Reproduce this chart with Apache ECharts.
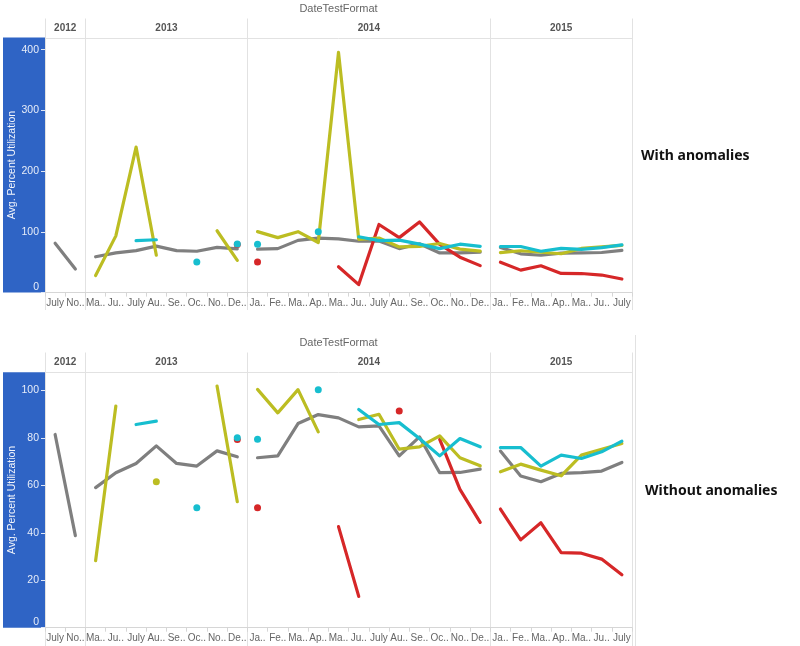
<!DOCTYPE html>
<html><head><meta charset="utf-8">
<script src="https://cdn.jsdelivr.net/npm/echarts@6/dist/echarts.min.js"></script>
<style>html,body{margin:0;padding:0;background:#fff}#c{width:800px;height:646px}</style>
</head><body><div id="c"></div>
<script>
// ---------- DATA ----------
const years = ['2012', '2013', '2014', '2015'];
const months2012 = ['July', 'November'];
const months2013 = ['May', 'June', 'July', 'August', 'September', 'October', 'November', 'December'];
const months2014 = ['January', 'February', 'March', 'April', 'May', 'June', 'July', 'August', 'September', 'October', 'November', 'December'];
const months2015 = ['January', 'February', 'March', 'April', 'May', 'June', 'July'];
const monthLabels2012 = ['July', 'No..'];
const monthLabels2013 = ['Ma..', 'Ju..', 'July', 'Au..', 'Se..', 'Oc..', 'No..', 'De..'];
const monthLabels2014 = ['Ja..', 'Fe..', 'Ma..', 'Ap..', 'Ma..', 'Ju..', 'July', 'Au..', 'Se..', 'Oc..', 'No..', 'De..'];
const monthLabels2015 = ['Ja..', 'Fe..', 'Ma..', 'Ap..', 'Ma..', 'Ju..', 'July'];
const yTicksWith = [0, 100, 200, 300, 400];
const yTicksWithout = [0, 20, 40, 60, 80, 100];
const yAxisTitle = 'Avg. Percent Utilization';
const headerTitle = 'DateTestFormat';
const panelNotes = ['With anomalies', 'Without anomalies'];

// values in slot order: 2012 (Jul, Nov) | 2013 (May..Dec) | 2014 (Jan..Dec) | 2015 (Jan..Jul)
const grayValues = [81.4, 38.8,
  59.0, 65.3, 69.2, 76.6, 69.2, 68.1, 74.5, 72.0,
  71.6, 72.4, 86.0, 89.8, 88.4, 84.6, 85.0, 72.4, 80.4, 65.3, 65.4, 66.8,
  74.4, 63.9, 61.5, 65.0, 65.3, 66.0, 69.6];
const oliveWith = [null, null,
  28.2, 93.4, 239.6, 61.5, null, null, 101.8, 53.1,
  100.4, 90.5, 100.3, 82.5, 395.6, 87.7, 89.9, 75.2, 76.2, 80.8, 71.6, 68.2,
  65.7, 68.9, 66.4, 64.0, 72.7, 75.2, 77.6];
const oliveWithout = [null, null,
  28.2, 93.4, null, 61.5, null, null, 101.8, 53.1,
  100.4, 90.5, 100.3, 82.5, null, 87.7, 89.9, 75.2, 76.2, 80.8, 71.6, 68.2,
  65.7, 68.9, 66.4, 64.0, 72.7, 75.2, 77.6];
const cyanValues = [null, null,
  null, null, 85.6, 87.0, null, 50.5, null, 80.0,
  79.4, null, null, 100.3, null, 91.9, 85.6, 86.4, 79.7, 72.4, 79.7, 76.2,
  75.9, 75.9, 68.1, 72.7, 71.3, 74.1, 78.6];
const redWith = [null, null,
  null, null, null, null, null, null, null, 79.3,
  50.5, null, null, null, 42.6, 13.2, 112.1, 90.5, 116.4, 79.3, 58.3, 44.4,
  50.0, 37.0, 44.2, 31.6, 31.4, 28.9, 22.3];
const redWithout = [null, null,
  null, null, null, null, null, null, null, 79.3,
  50.5, null, null, null, 42.6, 13.2, null, 91.3, null, 79.3, 58.3, 44.4,
  50.0, 37.0, 44.2, 31.6, 31.4, 28.9, 22.3];

// ---------- LAYOUT / STYLE ----------
const COLORS = { gray: '#7f7f7f', olive: '#bcbd22', cyan: '#17becf', red: '#d62728' };
const FONT = '"Liberation Sans", Arial, sans-serif';
const PLOT_L = 45, PLOT_R = 632;
const paneCats = [months2012, months2013, months2014, months2015];
const paneLabels = [monthLabels2012, monthLabels2013, monthLabels2014, monthLabels2015];
const nSlots = paneCats.reduce((s, a) => s + a.length, 0);
const slotW = (PLOT_R - PLOT_L) / nSlots;
const paneStart = [];
{ let s = 0; paneCats.forEach(c => { paneStart.push(s); s += c.length; }); paneStart.push(s); }

const panels = [
  { titleY: 9, headerTop: 18.5, headerY: 28, plotTop: 37.5, plotBottom: 292.6, labelBottom: 310, yMax: 420, ticks: yTicksWith,
    series: [['gray', grayValues], ['red', redWith], ['olive', oliveWith], ['cyan', cyanValues]], noteX: 641, noteY: 156 },
  { titleY: 343, headerTop: 352.5, headerY: 362, plotTop: 372.3, plotBottom: 627.7, labelBottom: 646, yMax: 107.6, ticks: yTicksWithout,
    series: [['gray', grayValues], ['red', redWithout], ['olive', oliveWithout], ['cyan', cyanValues]], noteX: 645, noteY: 491 }
];

const grid = [], xAxis = [], yAxis = [], series = [], graphic = [];
const LINE_C = '#e2e2e2';

panels.forEach((P, pi) => {
  const plotH = P.plotBottom - P.plotTop;
  graphic.push({ type: 'rect', z: -10, shape: { x: 3, y: P.plotTop, width: PLOT_L - 3, height: plotH }, style: { fill: '#2f64c5' } });
  graphic.push({ type: 'text', x: (PLOT_L + PLOT_R) / 2, y: P.titleY, style: { text: headerTitle, font: '11px ' + FONT, fill: '#666',
    align: 'center', verticalAlign: 'middle', textAlign: 'center', textVerticalAlign: 'middle' } });
  graphic.push({ type: 'line', shape: { x1: PLOT_L, y1: Math.round(P.plotTop) + 0.5, x2: PLOT_R, y2: Math.round(P.plotTop) + 0.5 }, style: { stroke: LINE_C, lineWidth: 1 } });
  graphic.push({ type: 'text', x: P.noteX, y: P.noteY, style: { text: panelNotes[pi], font: 'bold 14px "Noto Sans", "Open Sans", sans-serif', fill: '#111',
    align: 'left', verticalAlign: 'middle', textAlign: 'left', textVerticalAlign: 'middle' } });

  paneCats.forEach((cats, k) => {
    const x0 = PLOT_L + paneStart[k] * slotW;
    const w = cats.length * slotW;
    const gi = grid.length;
    grid.push({ left: x0, top: P.plotTop, width: w, height: plotH, containLabel: false });
    const labelMap = {};
    cats.forEach((c, i) => { labelMap[c] = paneLabels[k][i]; });
    xAxis.push({
      type: 'category', gridIndex: gi, data: cats, boundaryGap: true,
      axisLine: { show: true, lineStyle: { color: '#d6d6d6', width: 1 } },
      axisTick: { show: true, length: 4, lineStyle: { color: '#d6d6d6' } },
      axisLabel: { interval: 0, color: '#666', fontSize: 10, fontFamily: FONT, margin: 6, formatter: v => labelMap[v] },
      splitLine: { show: false }
    });
    const yA = { type: 'value', gridIndex: gi, min: 0, max: P.yMax, splitLine: { show: false } };
    if (k === 0) {
      Object.assign(yA, {
        position: 'left', axisLine: { show: false },
        axisTick: { show: true, length: 4, customValues: P.ticks, lineStyle: { color: '#dfe7f6' } },
        axisLabel: { customValues: P.ticks, color: '#e6ecf8', fontSize: 10.5, fontFamily: FONT, margin: 6, verticalAlignMinLabel: 'bottom' },
        name: yAxisTitle, nameLocation: 'middle', nameGap: 25, nameRotate: 90,
        nameTextStyle: { color: '#f2f5fb', fontSize: 10.5, fontFamily: FONT }
      });
    } else {
      yA.show = false;
    }
    yAxis.push(yA);
    graphic.push({ type: 'text', x: x0 + w / 2, y: P.headerY, style: { text: years[k], font: 'bold 10px ' + FONT, fill: '#555',
      align: 'center', verticalAlign: 'middle', textAlign: 'center', textVerticalAlign: 'middle' } });
    P.series.forEach(([cname, arr]) => {
      const vals = arr.slice(paneStart[k], paneStart[k + 1]);
      const data = vals.map((v, i) => {
        const prev = i > 0 ? vals[i - 1] : null;
        const next = i < vals.length - 1 ? vals[i + 1] : null;
        const iso = v != null && prev == null && next == null;
        return { value: v == null ? '-' : v, symbolSize: iso ? 7 : 0 };
      });
      series.push({
        type: 'line', xAxisIndex: gi, yAxisIndex: gi, data,
        symbol: 'circle', showSymbol: true, showAllSymbol: true, connectNulls: false,
        lineStyle: { color: COLORS[cname], width: 3.2, cap: 'round', join: 'round' },
        itemStyle: { color: COLORS[cname], borderWidth: 0 },
        emphasis: { disabled: true }, silent: true, animation: false
      });
    });
  });
  for (let k = 0; k <= paneCats.length; k++) {
    const x = Math.round(PLOT_L + paneStart[k] * slotW) + 0.5;
    graphic.push({ type: 'line', shape: { x1: x, y1: P.headerTop, x2: x, y2: P.labelBottom }, style: { stroke: LINE_C, lineWidth: 1 } });
  }
});
graphic.push({ type: 'line', shape: { x1: 635.5, y1: 335, x2: 635.5, y2: 646 }, style: { stroke: LINE_C, lineWidth: 1 } });

const chart = echarts.init(document.getElementById('c'), null, { renderer: 'canvas' });
chart.setOption({ backgroundColor: '#fff', animation: false, grid, xAxis, yAxis, series, graphic });
</script>
</body></html>
